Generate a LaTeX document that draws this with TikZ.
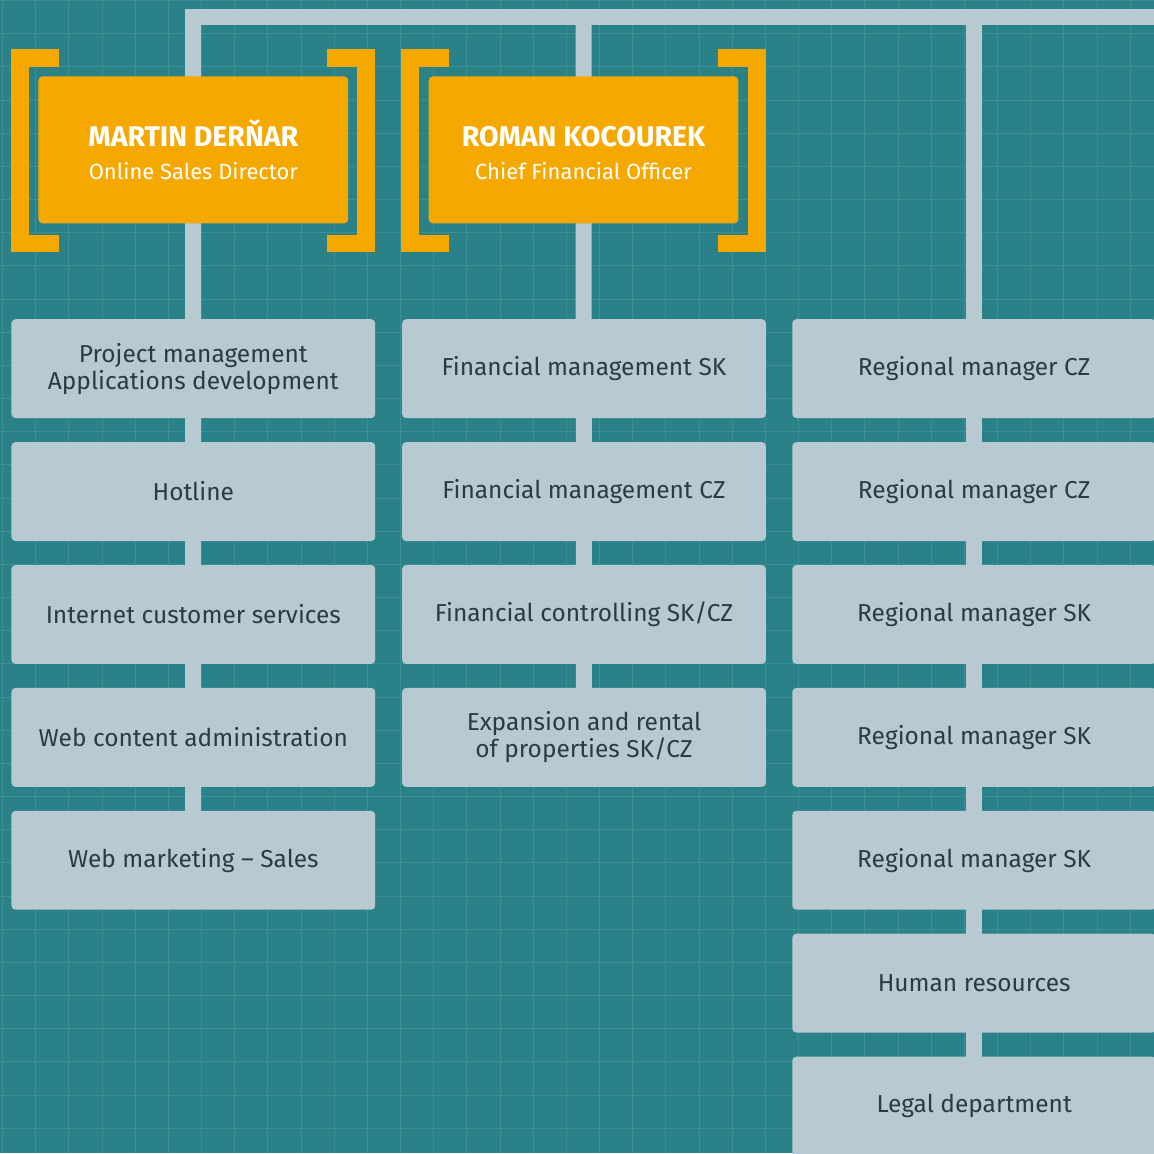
\documentclass[tikz,border=0pt]{standalone}
\usepackage{fontspec}
\setmainfont{Fira Sans}
\usepackage{tikz}
\usetikzlibrary{positioning,calc}
\definecolor{sea}{RGB}{43,129,136}
\definecolor{seagrid}{RGB}{60,143,149}
\definecolor{slate}{RGB}{183,201,209}
\definecolor{amber}{RGB}{245,168,0}
\definecolor{ink}{RGB}{46,58,66}
\pgfdeclarelayer{back}
\pgfdeclarelayer{wires}
\pgfsetlayers{back,wires,main}

\tikzset{
	unit/.style={fill=slate, rounded corners=4pt, minimum width=364pt, minimum height=99pt,
		inner sep=0pt, align=center, text=ink, font=\fontsize{24.5}{27}\selectfont},
	head/.style={fill=amber, rounded corners=4pt, minimum width=310pt, minimum height=147pt,
		inner sep=0pt, align=center, text=white, font=\fontsize{22}{33}\selectfont},
	wire/.style={draw=slate, line width=16pt},
	clamp/.style={draw=amber, line width=18pt}
}

\begin{document}
\begin{tikzpicture}[x=1pt, y=-1pt]
	\begin{pgfonlayer}{back}
		\fill[sea] (0,0) rectangle (1154,1153);
		\foreach \k in {0,...,34} {
			\draw[seagrid, line width=1pt] ({2+33.2*\k},0) -- ({2+33.2*\k},1153);
			\draw[seagrid, line width=1pt] (0,{33.2*\k}) -- (1154,{33.2*\k});
		}
	\end{pgfonlayer}
	\useasboundingbox (0,0) rectangle (1154,1153);

	% directors
	\node[head] (dir-1) at (193,149.5) {{\fontsize{28.5}{30}\selectfont\bfseries MARTIN DERŇAR}\\Online Sales Director};
	\node[head] (dir-2) at (583.5,149.5) {{\fontsize{28.5}{30}\selectfont\bfseries\vphantom{Ň}ROMAN KOCOUREK}\\Chief Financial Officer};
	\foreach \Dir in {dir-1,dir-2} {
		\draw[clamp] ($(\Dir.north west)+(21,-18)$) -- ++(-39,0) |- ($(\Dir.south west)+(21,20)$);
		\draw[clamp] ($(\Dir.north east)+(-21,-18)$) -- ++(39,0) |- ($(\Dir.south east)+(-21,20)$);
	}

	% departments
	\foreach \Row/\Label in {1/{Project management\\Applications development},2/Hotline,
		3/Internet customer services,4/Web content administration,5/Web marketing -- Sales}
		\node[unit] (u-1-\Row) at (193,{245.5+123*\Row}) {\Label};
	\foreach \Row/\Label in {1/Financial management SK,2/Financial management CZ,
		3/{Financial controlling SK/CZ},4/{Expansion and rental\\of properties SK/CZ}}
		\node[unit] (u-2-\Row) at (584,{245.5+123*\Row}) {\Label};
	\foreach \Row/\Label in {1/Regional manager CZ,2/Regional manager CZ,3/Regional manager SK,
		4/Regional manager SK,5/Regional manager SK,6/Human resources,7/Legal department}
		\node[unit] (u-3-\Row) at (974.5,{245.5+123*\Row}) {\Label};

	\coordinate (rail) at (1170,16.5);
	\begin{pgfonlayer}{wires}
		\draw[wire] (dir-1.center) |- (rail);
		\draw[wire] (dir-1.center) -- (u-1-5.center);
		\draw[wire] (dir-2.center |- rail) -- (u-2-4.center);
		\draw[wire] (u-3-1.center |- rail) -- (u-3-7.center);
	\end{pgfonlayer}
\end{tikzpicture}
\end{document}
